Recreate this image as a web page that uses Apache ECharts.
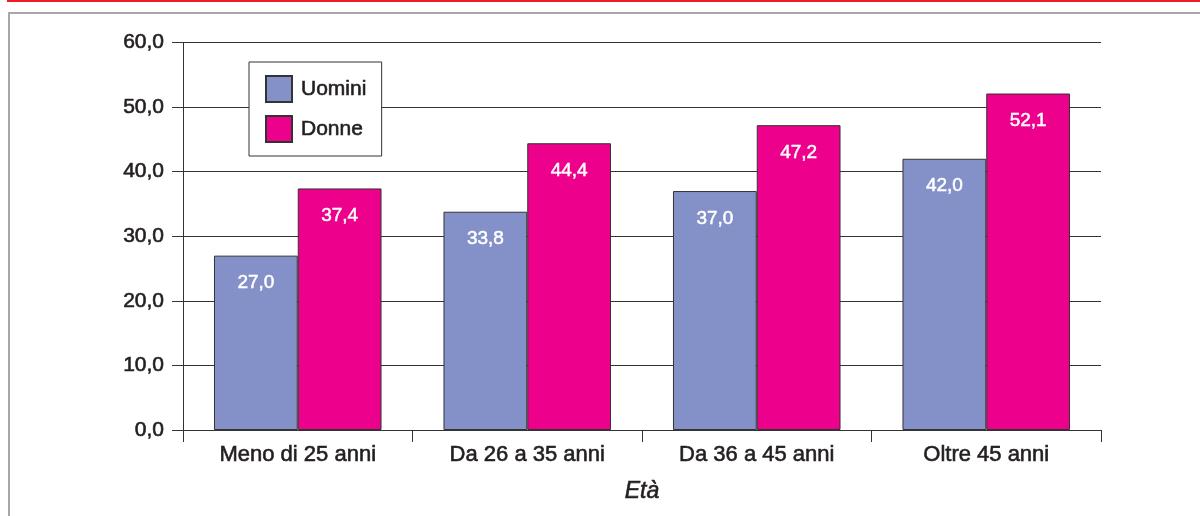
<!DOCTYPE html>
<html>
<head>
<meta charset="utf-8">
<script src="https://cdn.jsdelivr.net/npm/echarts@6/dist/echarts.min.js"></script>
<style>html,body{margin:0;padding:0;background:#fff}#c{width:1200px;height:516px}</style>
</head>
<body>
<div id="c"></div>
<script>
const categories = ['Meno di 25 anni', 'Da 26 a 35 anni', 'Da 36 a 45 anni', 'Oltre 45 anni'];
const uomini = [27.0, 33.8, 37.0, 42.0];
const donne = [37.4, 44.4, 47.2, 52.1];
const seriesNames = ['Uomini', 'Donne'];
const axisName = 'Età';

const fmt = v => v.toFixed(1).replace('.', ',');
const FONT = '"Liberation Sans", Arial, Helvetica, sans-serif';
const TXT = '#231f20';
const heavy = { textBorderColor: TXT, textBorderWidth: 0.6 };
const chart = echarts.init(document.getElementById('c'));
const labelOpt = {
  show: true, position: 'insideTop', distance: 18,
  color: '#fff', fontSize: 19, fontFamily: FONT,
  textBorderColor: '#fff', textBorderWidth: 0.5,
  formatter: p => fmt(p.value)
};
chart.setOption({
  animation: false,
  textStyle: { fontFamily: FONT },
  graphic: [
    { type: 'rect', shape: { x: 7, y: 0, width: 1193, height: 2 }, style: { fill: '#ED1C24' }, silent: true },
    { type: 'rect', shape: { x: 9, y: 13, width: 1300, height: 600 }, style: { fill: 'none', stroke: '#A7A7A7', lineWidth: 2 }, silent: true }
  ],
  grid: { left: 183, right: 99, top: 42.5, bottom: 86, containLabel: false },
  legend: {
    orient: 'vertical', left: 249, top: 62,
    padding: [13, 15, 13, 16],
    icon: 'rect',
    itemWidth: 26, itemHeight: 26, itemGap: 12,
    borderColor: '#333', borderWidth: 1, backgroundColor: '#fff',
    textStyle: Object.assign({ fontSize: 21, color: TXT, fontFamily: FONT, padding: [0, 0, 0, 4] }, heavy),
    data: seriesNames
  },
  xAxis: {
    type: 'category', data: categories,
    name: axisName, nameLocation: 'middle', nameGap: 50,
    nameTextStyle: Object.assign({ fontSize: 23, fontStyle: 'italic', color: TXT, fontFamily: FONT }, heavy),
    axisLine: { lineStyle: { color: '#333', width: 1 } },
    axisTick: { show: true, length: 12, alignWithLabel: false, lineStyle: { color: '#333' } },
    axisLabel: Object.assign({ fontSize: 22, color: TXT, margin: 14, fontFamily: FONT }, heavy)
  },
  yAxis: {
    type: 'value', min: 0, max: 60, interval: 10,
    axisLine: { show: true, lineStyle: { color: '#333', width: 1 } },
    axisTick: { show: true, length: 11, lineStyle: { color: '#333' } },
    axisLabel: Object.assign({ fontSize: 21, color: TXT, margin: 19, fontFamily: FONT, formatter: v => fmt(v) }, heavy),
    splitLine: { show: true, lineStyle: { color: '#333', width: 1 } }
  },
  series: [
    { name: seriesNames[0], type: 'bar', data: uomini, barGap: '0%', barCategoryGap: '27%',
      itemStyle: { color: '#8490C8', borderColor: '#333', borderWidth: 1 }, label: labelOpt, z: 3 },
    { name: seriesNames[1], type: 'bar', data: donne, barGap: '0%', barCategoryGap: '27%',
      itemStyle: { color: '#EC008C', borderColor: '#333', borderWidth: 1 }, label: labelOpt, z: 3 }
  ]
});
</script>
</body>
</html>
